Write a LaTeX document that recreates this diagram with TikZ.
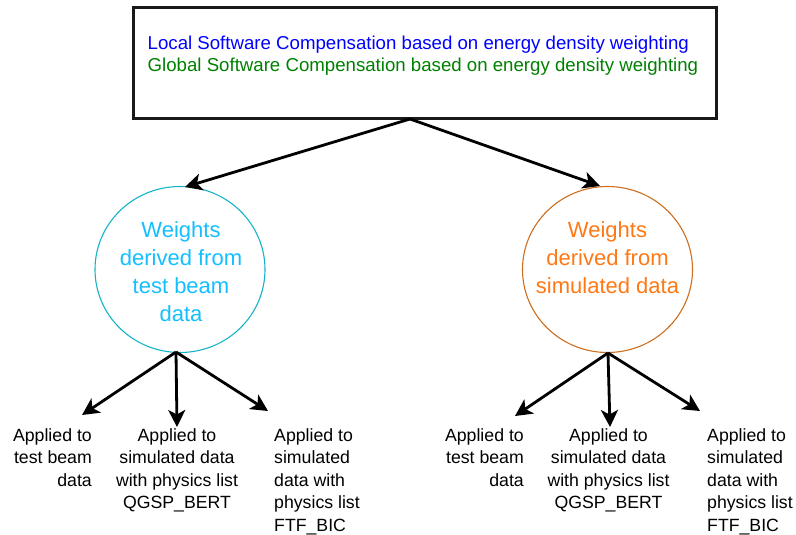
\documentclass[tikz,border=0pt]{standalone}
\usepackage{fontspec}
\setmainfont{Liberation Sans}
\usetikzlibrary{arrows.meta,shapes.geometric}
\definecolor{lblue}{RGB}{0,0,255}
\definecolor{lgreen}{RGB}{0,128,0}
\definecolor{skyt}{RGB}{20,190,255}
\definecolor{tealc}{RGB}{20,180,200}
\definecolor{oranget}{RGB}{255,120,20}
\definecolor{brownc}{RGB}{204,110,30}
\definecolor{boxc}{RGB}{25,25,25}
\begin{document}
\begin{tikzpicture}[x=1pt,y=-1pt,
  arr/.style={line width=2.8pt,-{Stealth[length=17pt,width=17pt,inset=4.5pt]}},
  lbl/.style={inner sep=0pt,font=\fontsize{17.7}{22.5}\selectfont},
  ctext/.style={inner sep=0pt,align=center,font=\fontsize{22}{27.8}\selectfont},
  wcirc/.style={draw,ellipse,line width=1.1pt,minimum width=170pt,minimum height=166pt,inner sep=0pt}]
\useasboundingbox (0,0) rectangle (796,535);
% top box
\node[draw=boxc,line width=3pt,outer sep=0pt,inner sep=0pt,minimum width=583pt,minimum height=111pt,anchor=north west] (top) at (133,8) {};
\node[inner sep=0pt,align=left,anchor=north west,font=\fontsize{18.65}{22}\selectfont] (title) at (147.5,36)
 {{\color{lblue}Local Software Compensation based on energy density weighting}\\{\color{lgreen}Global Software Compensation based on energy density weighting}};
% circles
\node[wcirc,draw=tealc] (lc) at (180,269.5) {};
\node[wcirc,draw=brownc] (rc) at (607.5,269.5) {};
\node[ctext,text=skyt,anchor=north] (lct) at (181,221.5) {Weights\\derived from\\test beam\\data};
\node[ctext,text=oranget,anchor=north] (rct) at (607.5,221.5) {Weights\\derived from\\simulated data};
% top arrows
\coordinate (ts) at (410,119);
\coordinate (ltip) at (185,187);
\coordinate (rtip) at (600,186);
\draw[arr] (ts) -- (ltip);
\draw[arr] (ts) -- (rtip);
% bottom labels
\node[lbl,align=right,anchor=north east] (l1) at (92,428.3) {Applied to\\test beam\\data};
\node[lbl,align=center,anchor=north] (l2) at (177,428.3) {Applied to\\simulated data\\with physics list\\QGSP\_BERT};
\node[lbl,align=left,anchor=north west] (l3) at (274,428.3) {Applied to\\simulated\\data with\\physics list\\FTF\_BIC};
\node[lbl,align=right,anchor=north east] (r1) at (524,428.3) {Applied to\\test beam\\data};
\node[lbl,align=center,anchor=north] (r2) at (608.5,428.3) {Applied to\\simulated data\\with physics list\\QGSP\_BERT};
\node[lbl,align=left,anchor=north west] (r3) at (707,428.3) {Applied to\\simulated\\data with\\physics list\\FTF\_BIC};
% bottom arrows
\coordinate (lb) at (176,352);
\coordinate (rb) at (608,353);
\coordinate (la) at (82,415);
\coordinate (lbt) at (177,427);
\coordinate (lcc) at (268,411);
\coordinate (ra) at (515,416);
\coordinate (rbt) at (610,427);
\coordinate (rcc) at (700,411);
\draw[arr] (lb) -- (la);
\draw[arr] (lb) -- (lbt);
\draw[arr] (lb) -- (lcc);
\draw[arr] (rb) -- (ra);
\draw[arr] (rb) -- (rbt);
\draw[arr] (rb) -- (rcc);
\end{tikzpicture}
\end{document}
